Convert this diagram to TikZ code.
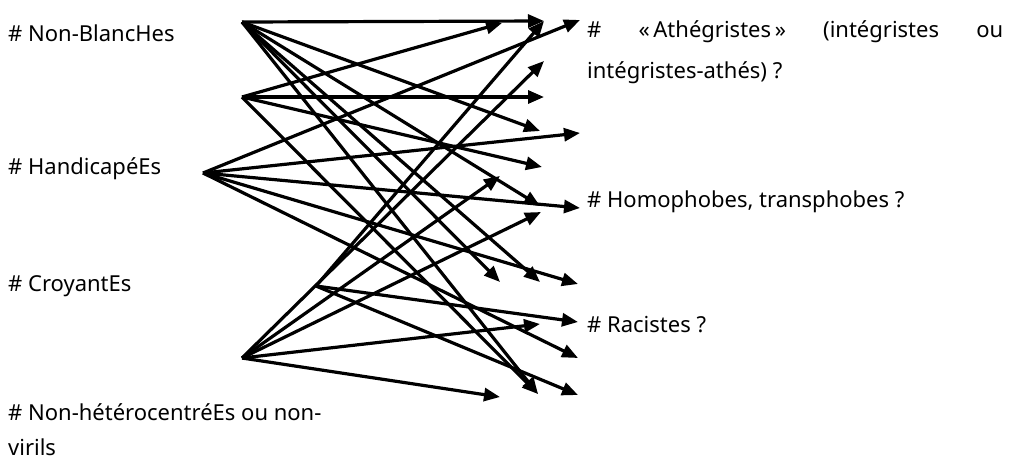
\documentclass[tikz,border=0pt]{standalone}
\usepackage{fontspec}
\setmainfont{Noto Sans}
\usetikzlibrary{arrows.meta}
\begin{document}
\begin{tikzpicture}[x=1pt,y=-1pt,
  conn/.style={line width=3.2pt,-{Triangle[length=16pt,width=13pt]}},
  lbl/.style={anchor=base west,inner sep=0pt,font=\fontsize{22}{26}\selectfont}]
\useasboundingbox (0,0) rectangle (1011,461);
% labels
\node[lbl] (nb) at (8,41) {\# Non-BlancHes};
\node[lbl] (hc) at (8,174) {\# HandicapéEs};
\node[lbl] (cr) at (8,291) {\# CroyantEs};
\node[lbl] (nh) at (8,420) {\# Non-hétérocentréEs ou non-};
\node[lbl] (vi) at (8,455) {virils};
\node[lbl] (at1) at (587,37) {\makebox[416pt][s]{\# «\,Athégristes\,» (intégristes ou}};
\node[lbl] (at5) at (587,78) {intégristes-athés) ?};
\node[lbl] (ho) at (587,207) {\# Homophobes, transphobes ?};
\node[lbl] (ra) at (587,332) {\# Racistes ?};
% sources
\coordinate (A) at (242,22);
\coordinate (B) at (242,97);
\coordinate (C) at (203,173);
\coordinate (D) at (316,286);
\coordinate (E) at (242,358);
% targets
\coordinate (t1) at (502,23);
\coordinate (t2) at (544,21);
\coordinate (t3) at (580,20);
\coordinate (t4) at (544,61);
\coordinate (t5) at (544,97);
\coordinate (t6) at (540,131);
\coordinate (t7) at (580,133);
\coordinate (t8) at (542,167);
\coordinate (t9) at (500,176);
\coordinate (t10) at (540,206);
\coordinate (t11) at (541,212);
\coordinate (t12) at (580,208);
\coordinate (t13) at (500,282);
\coordinate (t14) at (540,282);
\coordinate (t15) at (578,284);
\coordinate (t16) at (578,322);
\coordinate (t17) at (540,324);
\coordinate (t18) at (578,358);
\coordinate (t19) at (538,394);
\coordinate (t20) at (578,395);
\coordinate (t21) at (500,397);
% connectors
\draw[conn] (A) -- (t2);
\draw[conn] (A) -- (t6);
\draw[conn] (A) -- (t10);
\draw[conn] (A) -- (t14);
\draw[conn] (A) -- (t13);
\draw[conn] (A) -- (t19);
\draw[conn] (B) -- (t5);
\draw[conn] (B) -- (t1);
\draw[conn] (B) -- (t8);
\draw[conn] (B) -- (t19);
\draw[conn] (C) -- (t3);
\draw[conn] (C) -- (t7);
\draw[conn] (C) -- (t12);
\draw[conn] (C) -- (t15);
\draw[conn] (C) -- (t18);
\draw[conn] (D) -- (t2);
\draw[conn] (D) -- (t16);
\draw[conn] (D) -- (t20);
\draw[conn] (E) -- (t4);
\draw[conn] (E) -- (t9);
\draw[conn] (E) -- (t11);
\draw[conn] (E) -- (t17);
\draw[conn] (E) -- (t21);
\end{tikzpicture}
\end{document}
